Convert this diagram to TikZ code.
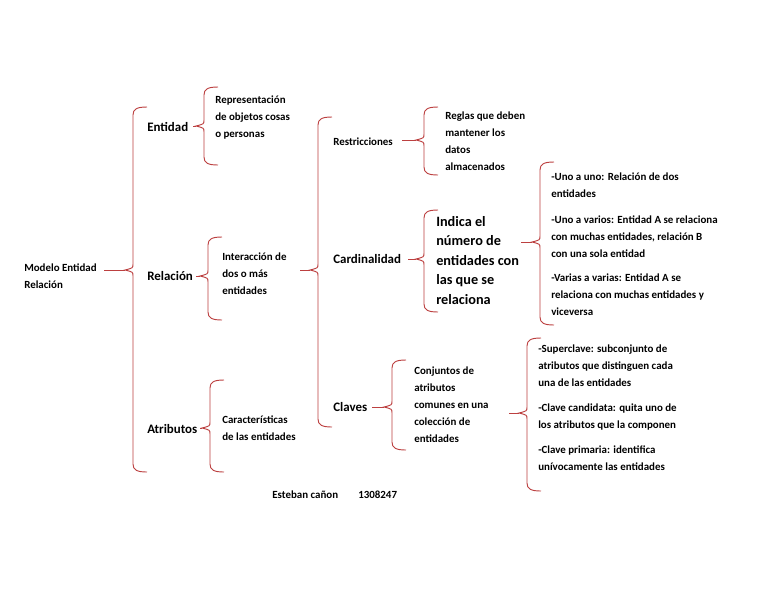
\documentclass[tikz,border=0pt]{standalone}
\usepackage{fontspec}
\setmainfont{Carlito}
\begin{document}
\begin{tikzpicture}[x=0.75pt,y=-0.75pt,
  br/.style={draw=red!65!black!75, line width=0.7pt},
  sm/.style={anchor=base west,align=left,inner sep=0pt,font=\bfseries\fontsize{8.2}{12.6}\selectfont},
  md/.style={anchor=base west,align=left,inner sep=0pt,font=\bfseries\fontsize{9.7}{12}\selectfont},
  lg/.style={anchor=base west,align=left,inner sep=0pt,font=\bfseries\fontsize{10.7}{14.6}\selectfont}]
\fill[white] (0,0) rectangle (768,594);
\newcommand\mybrace[5]{% x, top, bottom, mid, lead start
  \draw[br] (#1+14,#2) .. controls (#1+4,#2) and (#1,#2+2) .. (#1,#2+8)
    -- (#1,#4-6) .. controls (#1,#4-2) .. (#1-8,#4)
    .. controls (#1,#4+2) .. (#1,#4+6)
    -- (#1,#3-8) .. controls (#1,#3-2) and (#1+4,#3) .. (#1+14,#3);
  \draw[br] (#5,#4) -- (#1-8,#4);}
\mybrace{133}{107}{472}{270}{104}
\mybrace{204}{87}{165}{126}{193}
\mybrace{208}{237}{320}{276}{196}
\mybrace{210}{380}{472}{428}{200}
\mybrace{318}{117}{427}{270}{300}
\mybrace{424}{107}{175}{140}{402}
\mybrace{424}{210}{312}{259}{408}
\mybrace{392}{360}{450}{407}{372}
\mybrace{540}{162}{325}{242}{521}
\mybrace{527}{338}{491}{413}{509}

\node[sm] (m) at (24,288) {Modelo Entidad\\Relación};
\node[md] (e) at (147,131) {Entidad};
\node[md] (r) at (147,280) {Relación};
\node[md] (a) at (147,433) {Atributos};
\node[sm] (e1) at (215,137) {Representación\\de objetos cosas\\o personas};
\node[sm] (r1) at (222,294) {Interacción de\\dos o más\\entidades};
\node[sm] (a1) at (222,440) {Características\\de las entidades};
\node[sm] (rs) at (333,145) {Restricciones};
\node[md] (c) at (333,263) {Cardinalidad};
\node[md] (k) at (333,411) {Claves};
\node[sm] (rs1) at (445,170) {Reglas que deben\\mantener los\\datos\\almacenados};
\node[lg] (c1) at (436,304) {Indica el\\número de\\entidades con\\las que se\\relaciona};
\node[sm] (k1) at (414,442) {Conjuntos de\\atributos\\comunes en una\\colección de\\entidades};
\node[sm] (c2) at (551,197) {-Uno a uno: Relación de dos\\entidades};
\node[sm] (c3) at (551,257) {-Uno a varios: Entidad A se relaciona\\con muchas entidades, relación B\\con una sola entidad};
\node[sm] (c4) at (551,315) {-Varias a varias: Entidad A se\\relaciona con muchas entidades y\\viceversa};
\node[sm] (k2) at (538,386) {-Superclave: subconjunto de\\atributos que distinguen cada\\una de las entidades};
\node[sm] (k3) at (538,428) {-Clave candidata: quita uno de\\los atributos que la componen};
\node[sm] (k4) at (538,470) {-Clave primaria: identifica\\unívocamente las entidades};
\node[sm] (n) at (272,498) {Esteban cañon};
\node[sm] (id) at (358,498) {1308247};
\end{tikzpicture}
\end{document}
